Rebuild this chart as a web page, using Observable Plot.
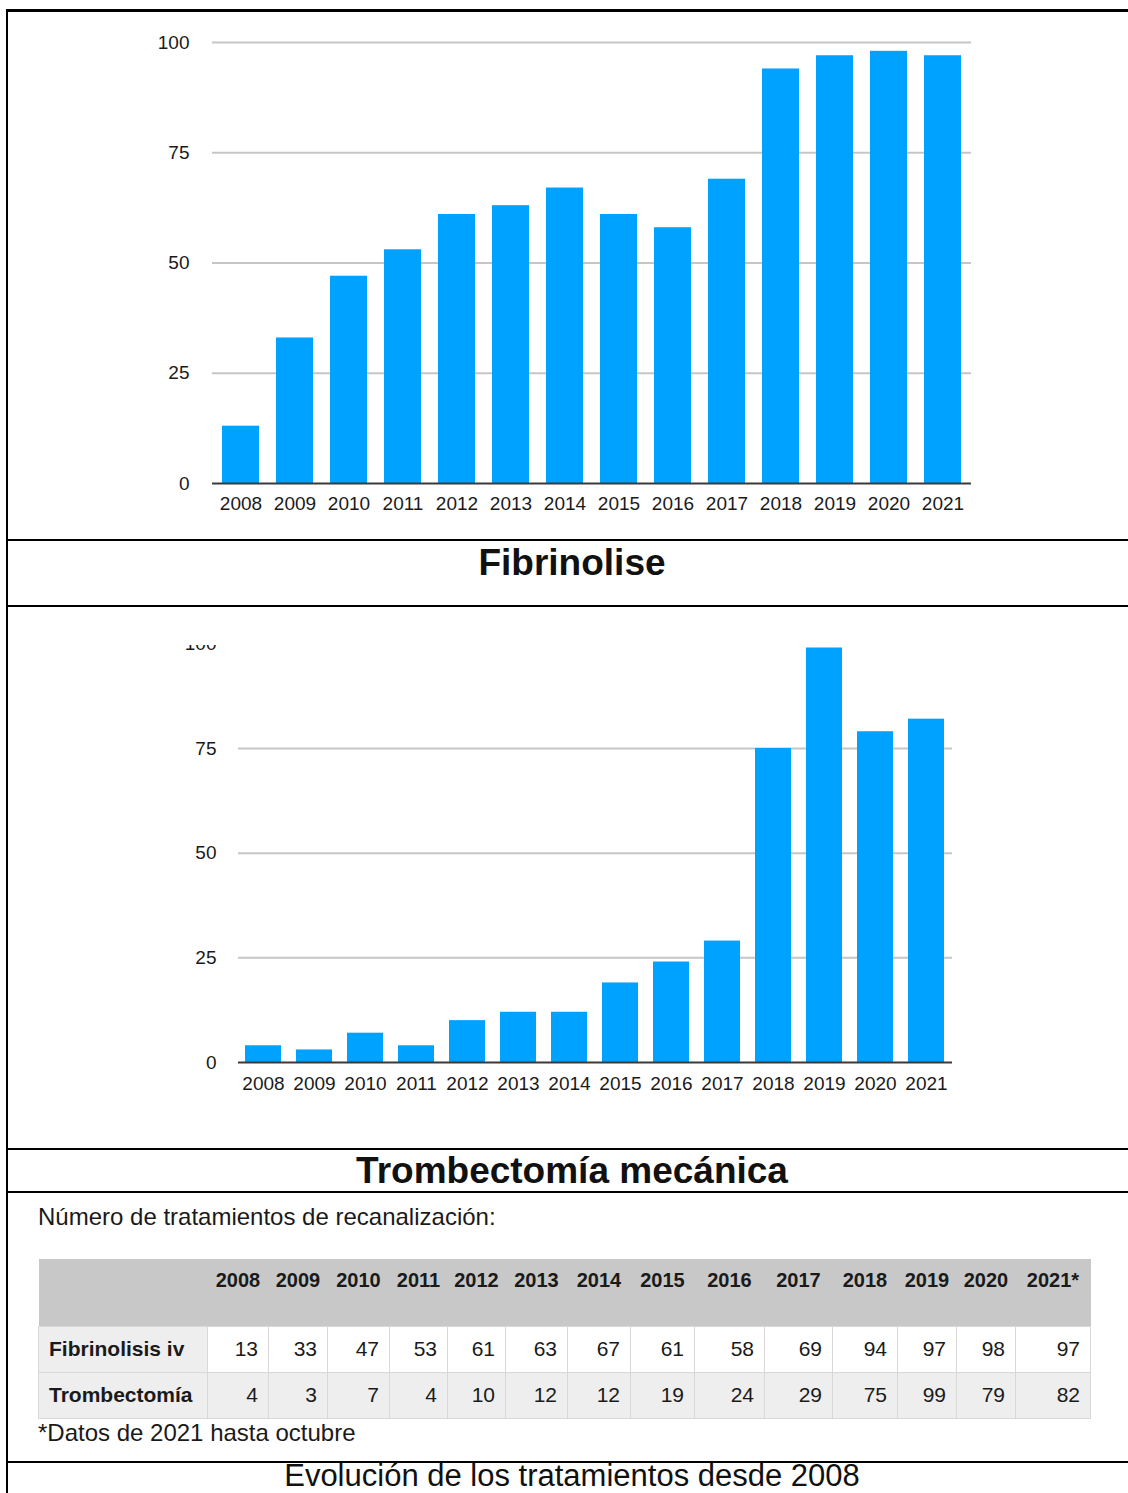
<!DOCTYPE html>
<html>
<head>
<meta charset="utf-8">
<script src="https://cdn.jsdelivr.net/npm/d3@7"></script>
<script src="https://cdn.jsdelivr.net/npm/@observablehq/plot@0.6"></script>
<style>
  html, body { margin: 0; padding: 0; background: #fff; }
  #page { position: relative; width: 1128px; height: 1493px; overflow: hidden; background: #fff;
          font-family: "Liberation Sans", Arial, Helvetica, sans-serif; color: #111; }
  .line { position: absolute; background: #000; z-index: 5; }
  .title { position: absolute; left: 8px; width: 1128px; text-align: center; white-space: nowrap; line-height: 1; z-index: 3; }
  .note { position: absolute; left: 38px; font-size: 24px; line-height: 1; color: #1a1a1a; white-space: nowrap; }
  #chart1 { position: absolute; left: 0; top: 0; }
  #clip2 { position: absolute; left: 0; top: 645px; width: 1128px; height: 503px; overflow: hidden; }
  #chart2 { position: absolute; left: 0; top: -30px; }
  table.data { position: absolute; left: 38px; top: 1259px; width: 1052px; border-collapse: collapse; table-layout: fixed;
               font-family: "Liberation Sans", Arial, Helvetica, sans-serif; color: #1a1a1a; }
  table.data th { background: #c8c8c8; height: 56px; vertical-align: top; padding: 11px 0 0 0; font-size: 20px;
                  font-weight: bold; text-align: center; border: none; line-height: 1; }
  table.data td { height: 42px; font-size: 21px; text-align: right; padding: 0 10px 3px 0; border: 1px solid #d8d8d8;
                  vertical-align: middle; background: #fff; line-height: 1; }
  table.data td.lab { text-align: left; padding: 0 0 3px 10px; font-weight: bold; background: #eeeeee; }
  table.data tr.alt td { background: #eeeeee; }
</style>
</head>
<body>
<div id="page">
  <div id="chart1"></div>
  <div id="clip2"><div id="chart2"></div></div>

  <div class="title" id="t1" style="top:543.7px;font-size:37px;font-weight:bold;"></div>
  <div class="title" id="t2" style="top:1152.2px;font-size:37px;font-weight:bold;"></div>
  <div class="note" id="n1" style="top:1205.2px;"></div>
  <div class="note" id="n2" style="top:1421.2px;"></div>
  <div class="title" id="t3" style="top:1463.5px;font-size:31px;font-weight:normal;line-height:0.8;"></div>

  <!-- frame lines -->
  <div class="line" style="left:6px;top:9px;width:1122px;height:3px;"></div>
  <div class="line" style="left:6px;top:9px;width:2px;height:1484px;"></div>
  <div class="line" style="left:6px;top:539px;width:1122px;height:2px;"></div>
  <div class="line" style="left:6px;top:605px;width:1122px;height:2px;"></div>
  <div class="line" style="left:6px;top:1148px;width:1122px;height:2px;"></div>
  <div class="line" style="left:6px;top:1191px;width:1122px;height:2px;"></div>
  <div class="line" style="left:6px;top:1461px;width:1122px;height:2px;"></div>
</div>

<script>
// ---------- data ----------
const years = ["2008","2009","2010","2011","2012","2013","2014","2015","2016","2017","2018","2019","2020","2021"];
const fibrinolisis = [13, 33, 47, 53, 61, 63, 67, 61, 58, 69, 94, 97, 98, 97];
const trombectomia = [4, 3, 7, 4, 10, 12, 12, 19, 24, 29, 75, 99, 79, 82];
const yTicks = [0, 25, 50, 75, 100];
const gridTicks = [25, 50, 75, 100];
const tableYears = ["2008","2009","2010","2011","2012","2013","2014","2015","2016","2017","2018","2019","2020","2021*"];
const rowLabels = ["Fibrinolisis iv", "Trombectomía"];
const chartTitles = ["Fibrinolise", "Trombectomía mecánica"];
const tableTitle = "Número de tratamientos de recanalización:";
const footnote = "*Datos de 2021 hasta octubre";
const caption = "Evolución de los tratamientos desde 2008";

// ---------- styling / layout (not data) ----------
const BAR = "#00a2ff";
const GRID = "#c6c6c6";
const BASE = "#3a3a3a";
const fontFamily = "'Liberation Sans', Arial, Helvetica, sans-serif";
const colWidths = [169, 61, 59, 62, 58, 58, 62, 63, 64, 70, 68, 65, 59, 59, 75];

function barChart(values, opt) {
  const data = years.map((y, i) => ({year: y, value: values[i]}));
  return Plot.plot({
    width: opt.width,
    height: opt.height,
    marginLeft: opt.ml,
    marginRight: opt.mr,
    marginTop: opt.mt,
    marginBottom: opt.mb,
    style: {fontSize: "19px", fontFamily, color: "#1a1a1a", background: "transparent", overflow: "visible"},
    x: {type: "band", domain: years, paddingInner: opt.pi, paddingOuter: opt.pi / 2, label: null, tickSize: 0, tickPadding: opt.xpad},
    y: {domain: [0, 100], ticks: yTicks, label: null, tickSize: 0, tickPadding: opt.ypad},
    marks: [
      Plot.ruleY(gridTicks, {stroke: GRID, strokeWidth: 2}),
      Plot.barY(data, {x: "year", y: "value", fill: BAR}),
      Plot.ruleY([0], {stroke: BASE, strokeWidth: 2})
    ]
  });
}

document.getElementById("chart1").append(barChart(fibrinolisis, {
  width: 1128, height: 530, ml: 212, mr: 157, mt: 42, mb: 47, pi: 0.317, xpad: 13, ypad: 23
}));
// chart2 svg placed at page y = 615 (container at 645, offset -30)
document.getElementById("chart2").append(barChart(trombectomia, {
  width: 1128, height: 500, ml: 238, mr: 176, mt: 28.3, mb: 53, pi: 0.29, xpad: 14, ypad: 22
}));

document.getElementById("t1").textContent = chartTitles[0];
document.getElementById("t2").textContent = chartTitles[1];
document.getElementById("n1").textContent = tableTitle;
document.getElementById("n2").textContent = footnote;
document.getElementById("t3").textContent = caption;

// ---------- table ----------
const table = document.createElement("table");
table.className = "data";
const cg = document.createElement("colgroup");
colWidths.forEach(w => { const c = document.createElement("col"); c.style.width = w + "px"; cg.append(c); });
table.append(cg);
const thead = document.createElement("tr");
thead.append(document.createElement("th"));
tableYears.forEach(y => { const th = document.createElement("th"); th.textContent = y; thead.append(th); });
table.append(thead);
[fibrinolisis, trombectomia].forEach((vals, r) => {
  const tr = document.createElement("tr");
  if (r === 1) tr.className = "alt";
  const lab = document.createElement("td");
  lab.className = "lab";
  lab.textContent = rowLabels[r];
  tr.append(lab);
  vals.forEach(v => { const td = document.createElement("td"); td.textContent = v; tr.append(td); });
  table.append(tr);
});
document.getElementById("page").append(table);
</script>
</body>
</html>
